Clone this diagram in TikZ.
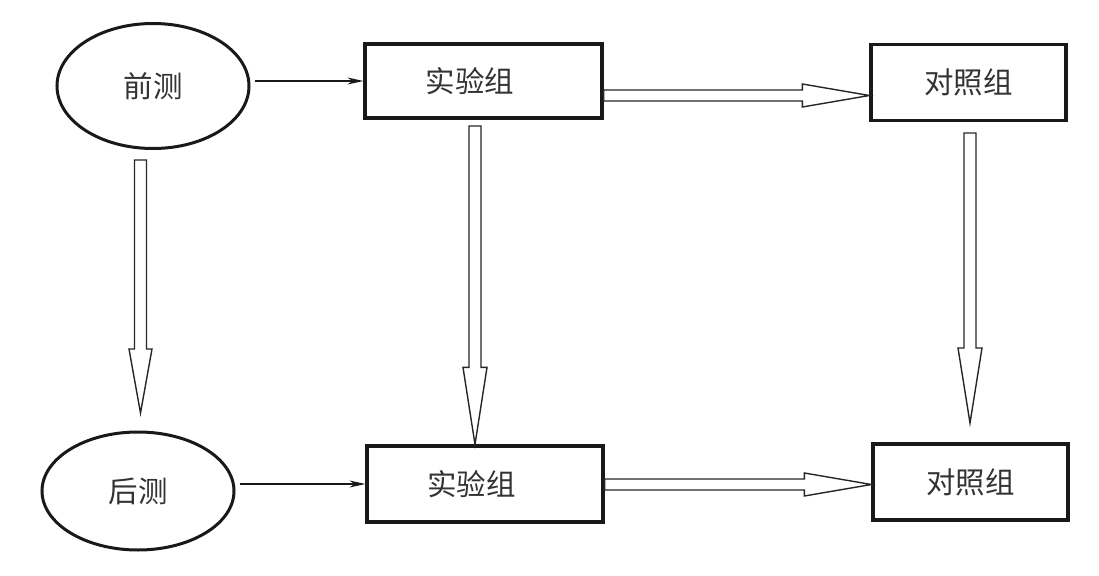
\documentclass[tikz,border=0pt]{standalone}
\usepackage{fontspec}
\newfontfamily\cjk{Noto Sans CJK SC}
\usetikzlibrary{shapes.geometric,arrows.meta,calc}
\tikzset{
  oval/.style={ellipse,draw=black!90,line width=3pt,inner sep=0pt},
  grpbox/.style={rectangle,draw=black!90,line width=3.2pt,inner sep=0pt},
  lbl/.style={font=\cjk\fontsize{29.5}{31}\selectfont,text=black!80},
  thinarrow/.style={draw=black!90,line width=1.2pt,-{Stealth[length=16pt,width=7pt]}},
  hollow/.style={draw=black!85,line width=1.4pt,fill=white,line join=miter}
}
\newcommand\harrow[4]{% start, tip, head length, y half widths
  \draw[hollow] let \p1=(#1), \p2=(#2) in
   (\x1,\y1+5.5pt) -- (\x2-#3,\y1+5.5pt) -- (\x2-#3,\y1+#4) -- (\x2,\y2)
   -- (\x2-#3,\y1-#4) -- (\x2-#3,\y1-5.5pt) -- (\x1,\y1-5.5pt) -- cycle;}
\newcommand\varrow[4]{% start, tip, head length, head half width
  \draw[hollow] let \p1=(#1), \p2=(#2) in
   (\x1-6pt,\y1) -- (\x1-6pt,\y2+#3) -- (\x1-#4,\y2+#3) -- (\x2,\y2)
   -- (\x1+#4,\y2+#3) -- (\x1+6pt,\y2+#3) -- (\x1+6pt,\y1) -- cycle;}
\begin{document}
\begin{tikzpicture}[x=1pt,y=-1pt]
\useasboundingbox (0,0) rectangle (1099,575);
\node[oval,minimum width=192pt,minimum height=125pt,lbl] (e1) at (153,86) {前测};
\node[oval,minimum width=192pt,minimum height=118pt,lbl] (e2) at (138,491) {后测};
\node[grpbox,minimum width=237pt,minimum height=74pt,lbl] (b1) at (483.5,81) {实验组\hspace*{27pt}};
\node[grpbox,minimum width=195pt,minimum height=76pt,lbl] (b2) at (968.5,82.5) {对照组};
\node[grpbox,minimum width=236pt,minimum height=76pt,lbl] (b3) at (485,484) {实验组\hspace*{27pt}};
\node[grpbox,minimum width=195pt,minimum height=76pt,lbl] (b4) at (970.5,482) {对照组};
% thin arrows
\coordinate (s1) at ($(e1.east)+(4,0)$);
\draw[thinarrow] (s1 |- b1.west) -- (b1.west);
\coordinate (s2) at ($(e2.east)+(4,0)$);
\draw[thinarrow] (s2 |- b3.west) -- (b3.west);
% hollow horizontal arrows
\coordinate (h1s) at (b1.east |- 0,95.5);
\coordinate (h1e) at (b2.west |- 0,95.5);
\harrow{h1s}{h1e}{67pt}{11.5pt}
\coordinate (h2s) at (b3.east |- 0,484.5);
\coordinate (h2e) at (b4.west |- 0,484.5);
\harrow{h2s}{h2e}{67pt}{11.5pt}
% hollow vertical arrows
\coordinate (v1s) at (140.5,160);
\coordinate (v1e) at (140.5,413);
\varrow{v1s}{v1e}{64pt}{11.5pt}
\coordinate (v2s) at (475,126);
\coordinate (v2e) at (b3.north -| v2s);
\varrow{v2s}{v2e}{77pt}{12pt}
\coordinate (v3s) at (970,133);
\coordinate (v3e) at (970,423);
\varrow{v3s}{v3e}{75pt}{12pt}
\end{tikzpicture}
\end{document}
